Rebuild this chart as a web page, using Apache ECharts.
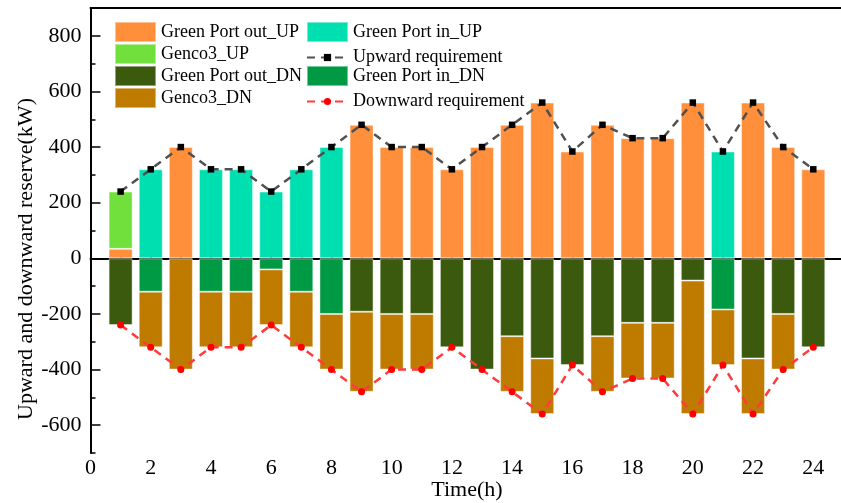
<!DOCTYPE html>
<html>
<head>
<meta charset="utf-8">
<script src="https://cdn.jsdelivr.net/npm/echarts@6/dist/echarts.min.js"></script>
<style>
html,body{margin:0;padding:0;background:#fff;}
#chart{width:841px;height:503px;}
</style>
</head>
<body>
<div id="chart"></div>
<script>
// ---- data ----
var xCategories = ['0','1','2','3','4','5','6','7','8','9','10','11','12','13','14','15','16','17','18','19','20','21','22','23','24','25'];
var hours = [1,2,3,4,5,6,7,8,9,10,11,12,13,14,15,16,17,18,19,20,21,22,23,24];
var upReq = [240,320,400,320,320,240,320,400,480,400,400,320,400,480,560,384,480,432,432,560,384,560,400,320];
var dnReq = [-240,-320,-400,-320,-320,-240,-320,-400,-480,-400,-400,-320,-400,-480,-560,-384,-480,-432,-432,-560,-384,-560,-400,-320];
var portOutUp = [34,0,400,0,0,0,0,0,480,400,400,320,400,480,560,384,480,432,432,560,0,560,400,320];
var genco3Up  = [206,0,0,0,0,0,0,0,0,0,0,0,0,0,0,0,0,0,0,0,0,0,0,0];
var portInUp  = [0,320,0,320,320,240,320,400,0,0,0,0,0,0,0,0,0,0,0,0,384,0,0,0];
var portOutDn = [-240,0,0,0,0,0,0,0,-192,-200,-200,-320,-400,-280,-360,-384,-280,-232,-232,-80,0,-360,-200,-320];
var portInDn  = [0,-120,0,-120,-120,-40,-120,-200,0,0,0,0,0,0,0,0,0,0,0,0,-184,0,0,0];
var genco3Dn  = [0,-200,-400,-200,-200,-200,-200,-200,-288,-200,-200,0,0,-200,-200,0,-200,-200,-200,-480,-200,-200,-200,0];
var yMajorTicks = [-600,-400,-200,0,200,400,600,800];

var FONT = '"Liberation Serif", "Times New Roman", serif';

function byCategory(vals, skipZero){
  var out = xCategories.map(function(){ return null; });
  hours.forEach(function(h, i){
    var v = vals[i];
    out[h] = (skipZero && v === 0) ? null : v;
  });
  return out;
}

function barSeries(name, vals, color){
  return {
    name: name, type: 'bar', stack: 'total', barWidth: 24,
    data: byCategory(vals, true),
    itemStyle: {color: color, borderColor: 'rgba(255,255,255,0.45)', borderWidth: 1},
    xAxisIndex: 0, yAxisIndex: 0
  };
}

var chart = echarts.init(document.getElementById('chart'), null, {renderer: 'canvas'});

var legendText = {color: '#000', fontSize: 18, fontFamily: FONT};
function rectLegend(name, left, top){
  return {left: left, top: top, orient: 'vertical', itemWidth: 41, itemHeight: 20, textStyle: legendText,
          data: [{name: name, icon: 'rect'}]};
}
function lineLegend(name, left, top){
  return {left: left, top: top, orient: 'vertical', itemWidth: 41, itemHeight: 9, textStyle: legendText,
          data: [{name: name}]};
}

var option = {
  animation: false,
  backgroundColor: '#fff',
  textStyle: {fontFamily: FONT},
  grid: {left: 90.5, top: 8, width: 752.9, height: 445, containLabel: false, outerBoundsMode: 'none'},
  xAxis: [
    {
      type: 'category', data: xCategories, boundaryGap: false, position: 'bottom',
      axisLine: {show: true, lineStyle: {color: '#000', width: 2}},
      axisTick: {show: true, inside: true, length: 10, lineStyle: {color: '#000', width: 1.5},
                 interval: function(idx){ return idx % 2 === 0 && idx <= 24; }},
      axisLabel: {show: true, color: '#000', fontSize: 22, fontFamily: FONT, margin: 4,
                  interval: function(idx){ return idx % 2 === 0 && idx <= 24; }},
      splitLine: {show: false}
    },
    {
      type: 'category', data: xCategories, boundaryGap: false, position: 'bottom',
      axisLine: {show: false},
      axisTick: {show: true, inside: true, length: 5, lineStyle: {color: '#000', width: 1.5},
                 interval: function(idx){ return idx <= 24; }},
      axisLabel: {show: false}, splitLine: {show: false}
    },
    {
      type: 'category', data: xCategories, boundaryGap: false, position: 'top',
      axisLine: {show: true, lineStyle: {color: '#000', width: 2}},
      axisTick: {show: false}, axisLabel: {show: false}, splitLine: {show: false}
    }
  ],
  yAxis: [
    {
      type: 'value', min: -700, max: 900, interval: 100, position: 'left',
      axisLine: {show: true, lineStyle: {color: '#000', width: 2}},
      axisTick: {show: true, inside: true, length: 10, lineStyle: {color: '#000', width: 1.5}, customValues: yMajorTicks},
      axisLabel: {show: true, customValues: yMajorTicks, color: '#000', fontSize: 22, fontFamily: FONT, margin: 9},
      splitLine: {show: false}
    },
    {
      type: 'value', min: -700, max: 900, interval: 100, position: 'left',
      axisLine: {show: false},
      axisTick: {show: true, inside: true, length: 5, lineStyle: {color: '#000', width: 1.5}},
      axisLabel: {show: false}, splitLine: {show: false}
    }
  ],
  legend: [
    rectLegend('Green Port out_UP', 109, 16),
    rectLegend('Genco3_UP', 109, 38),
    rectLegend('Green Port out_DN', 109, 60),
    rectLegend('Genco3_DN', 109, 82),
    rectLegend('Green Port in_UP', 301, 16),
    lineLegend('Upward requirement', 301, 43.5),
    rectLegend('Green Port in_DN', 301, 60),
    lineLegend('Downward requirement', 301, 87.5)
  ],
  graphic: [
    {
      type: 'text', x: 26, y: 259, rotation: Math.PI / 2,
      style: {text: 'Upward and downward reserve(kW)', fill: '#000', font: '22px "Liberation Serif"', align: 'center', verticalAlign: 'middle'}
    },
    {
      type: 'text', x: 467, y: 490,
      style: {text: 'Time(h)', fill: '#000', font: '22px "Liberation Serif"', align: 'center', verticalAlign: 'middle'}
    }
  ],
  series: [
    barSeries('Green Port out_UP', portOutUp, '#FF8F3A'),
    barSeries('Genco3_UP', genco3Up, '#72E03C'),
    barSeries('Green Port in_UP', portInUp, '#00DFB0'),
    barSeries('Green Port out_DN', portOutDn, '#3B5A0E'),
    barSeries('Green Port in_DN', portInDn, '#009A44'),
    barSeries('Genco3_DN', genco3Dn, '#BF7B00'),
    {
      name: 'Upward requirement', type: 'line', data: byCategory(upReq, false),
      symbol: 'rect', symbolSize: 6.5, z: 5,
      lineStyle: {color: '#505050', width: 2.5, type: [8, 6]},
      itemStyle: {color: '#000'}
    },
    {
      name: 'Downward requirement', type: 'line', data: byCategory(dnReq, false),
      symbol: 'circle', symbolSize: 7, z: 5,
      lineStyle: {color: '#FF3B3B', width: 2.5, type: [8, 6]},
      itemStyle: {color: '#FF0000'}
    }
  ]
};
chart.setOption(option);
</script>
</body>
</html>
